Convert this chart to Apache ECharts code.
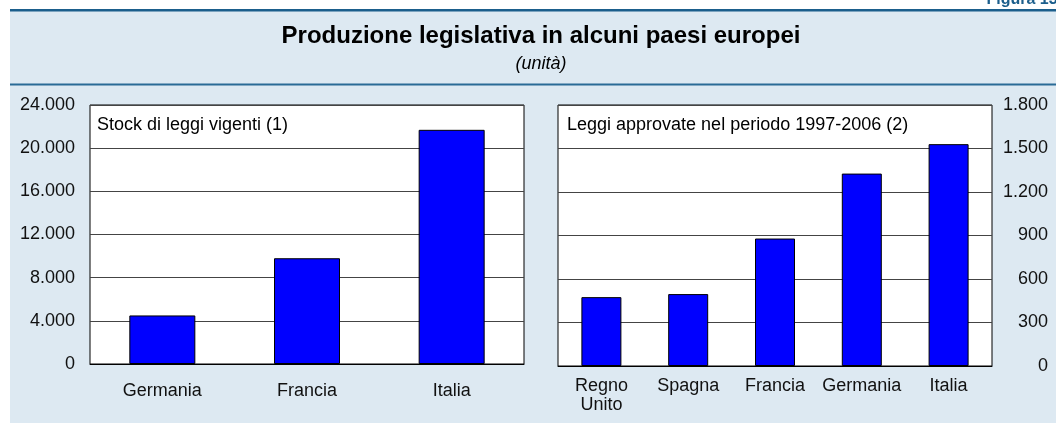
<!DOCTYPE html>
<html>
<head>
<meta charset="utf-8">
<script src="https://cdn.jsdelivr.net/npm/echarts@6/dist/echarts.min.js"></script>
<style>
  html, body { margin: 0; padding: 0; background: #fff; }
  #chart { width: 1056px; height: 423px; }
</style>
</head>
<body>
<div id="chart"></div>
<script>
// dati
var stockCategories = ['Germania', 'Francia', 'Italia'];
var stockValues = [4500, 9800, 21700];
var approvedCategories = ['Regno\nUnito', 'Spagna', 'Francia', 'Germania', 'Italia'];
var approvedValues = [475, 496, 879, 1327, 1530];
var stockTicks = [0, 4000, 8000, 12000, 16000, 20000, 24000];
var approvedTicks = [0, 300, 600, 900, 1200, 1500, 1800];

var FONT = '"Liberation Sans", Arial, Helvetica, sans-serif';
var DARKBLUE = '#1b5e8c';

function fmtIt(v) {
    // separatore delle migliaia con il punto
    return String(v).replace(/\B(?=(\d{3})+(?!\d))/g, '.');
}

var myChart = echarts.init(document.getElementById('chart'), null, {renderer: 'canvas'});

var barStyle = {color: '#0000ff', borderColor: '#000', borderWidth: 1};

var options = {
    animation: false,
    backgroundColor: '#fff',
    textStyle: {fontFamily: FONT},
    graphic: [
        // pannello azzurro
        {type: 'rect', z: -10, shape: {x: 10, y: 10, width: 1046, height: 413}, style: {fill: '#dde9f2'}},
        {type: 'rect', z: -9, shape: {x: 10, y: 9, width: 1046, height: 2.5}, style: {fill: DARKBLUE}},
        {type: 'rect', z: -9, shape: {x: 10, y: 83.5, width: 1046, height: 2}, style: {fill: '#2a6b96'}},
        {type: 'text', x: 1062, y: 8, style: {text: 'Figura 13.', fill: DARKBLUE, font: 'bold 16px ' + FONT, align: 'right', verticalAlign: 'bottom'}},
        {type: 'text', x: 541, y: 36, style: {text: 'Produzione legislativa in alcuni paesi europei', fill: '#000', font: 'bold 24px ' + FONT, align: 'center', verticalAlign: 'middle'}},
        {type: 'text', x: 541, y: 64, style: {text: '(unità)', fill: '#000', font: 'italic 18px ' + FONT, align: 'center', verticalAlign: 'middle'}},
        {type: 'text', x: 97, y: 125, z: 10, style: {text: 'Stock di leggi vigenti (1)', fill: '#000', font: '18px ' + FONT, align: 'left', verticalAlign: 'middle'}},
        {type: 'text', x: 567, y: 125, z: 10, style: {text: 'Leggi approvate nel periodo 1997-2006 (2)', fill: '#000', font: '18px ' + FONT, align: 'left', verticalAlign: 'middle'}}
    ],
    grid: [
        {left: 90, top: 105, width: 434, height: 259, show: true, backgroundColor: '#fff', borderColor: '#000', borderWidth: 1},
        {left: 558, top: 105, width: 434, height: 261, show: true, backgroundColor: '#fff', borderColor: '#000', borderWidth: 1}
    ],
    xAxis: [
        {
            type: 'category', gridIndex: 0, data: stockCategories,
            axisLine: {lineStyle: {color: '#000', width: 1}},
            axisTick: {inside: true, length: 5, lineStyle: {color: '#000'}},
            axisLabel: {color: '#111', fontSize: 18, lineHeight: 20, margin: 17, fontFamily: FONT}
        },
        {
            type: 'category', gridIndex: 1, data: approvedCategories,
            axisLine: {lineStyle: {color: '#000', width: 1}},
            axisTick: {inside: true, length: 5, lineStyle: {color: '#000'}},
            axisLabel: {color: '#111', fontSize: 18, lineHeight: 19, margin: 11, interval: 0, fontFamily: FONT}
        }
    ],
    yAxis: [
        {
            type: 'value', gridIndex: 0, min: stockTicks[0], max: stockTicks[stockTicks.length - 1],
            interval: stockTicks[1] - stockTicks[0],
            axisLine: {show: false}, axisTick: {show: false},
            splitLine: {lineStyle: {color: '#444', width: 1}},
            axisLabel: {color: '#111', fontSize: 18, margin: 15, fontFamily: FONT, formatter: fmtIt}
        },
        {
            type: 'value', gridIndex: 1, position: 'right', min: approvedTicks[0], max: approvedTicks[approvedTicks.length - 1],
            interval: approvedTicks[1] - approvedTicks[0],
            axisLine: {show: false}, axisTick: {show: false},
            splitLine: {lineStyle: {color: '#444', width: 1}},
            axisLabel: {color: '#111', fontSize: 18, margin: 56, align: 'right', fontFamily: FONT, formatter: fmtIt}
        }
    ],
    series: [
        {name: 'Stock di leggi vigenti', type: 'bar', xAxisIndex: 0, yAxisIndex: 0, barWidth: 66, data: stockValues, itemStyle: barStyle},
        {name: 'Leggi approvate 1997-2006', type: 'bar', xAxisIndex: 1, yAxisIndex: 1, barWidth: 40, data: approvedValues, itemStyle: barStyle}
    ]
};

myChart.setOption(options);
window.onresize = myChart.resize;
</script>
</body>
</html>
